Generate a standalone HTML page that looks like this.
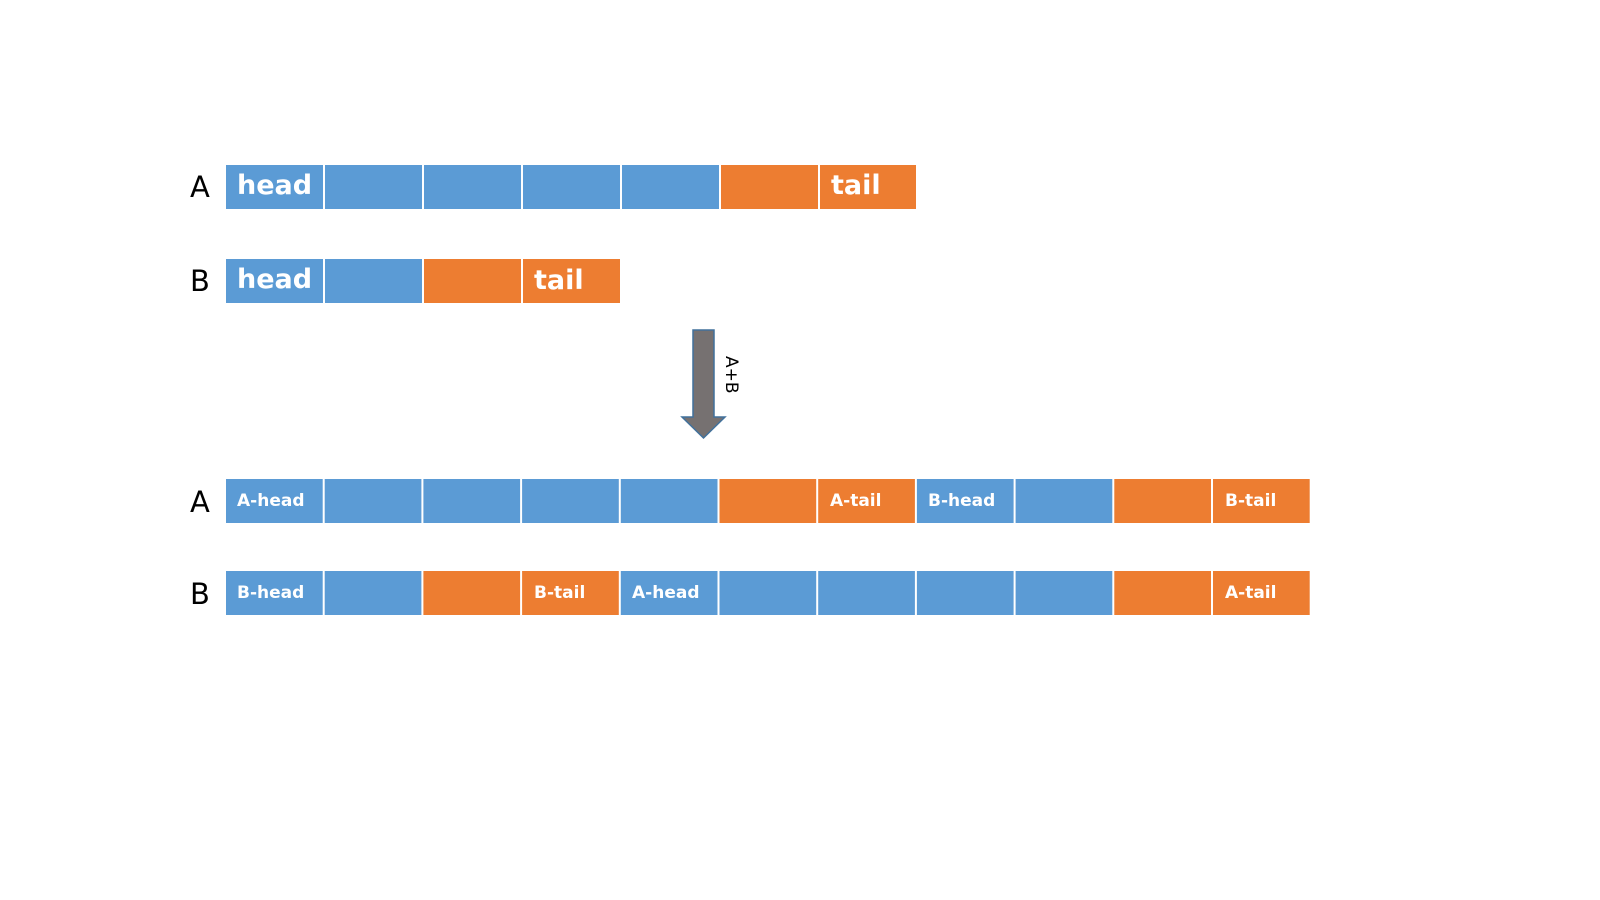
<!DOCTYPE html>
<html><head><meta charset="utf-8"><style>
html,body{margin:0;padding:0;background:#fff;}
svg{display:block;}
</style></head><body>
<svg width="1600" height="900" viewBox="0 0 1600 900" xmlns="http://www.w3.org/2000/svg">
<g font-family="'DejaVu Sans','Liberation Sans',sans-serif">
<g font-size="29" fill="#000">
<text x="190" y="197">A</text>
<text x="190" y="291">B</text>
<text x="190" y="512">A</text>
<text x="190" y="604">B</text>
</g>
<rect x="226" y="165" width="97" height="44" fill="#5B9BD5"/>
<rect x="325" y="165" width="97" height="44" fill="#5B9BD5"/>
<rect x="424" y="165" width="97" height="44" fill="#5B9BD5"/>
<rect x="523" y="165" width="97" height="44" fill="#5B9BD5"/>
<rect x="622" y="165" width="97" height="44" fill="#5B9BD5"/>
<rect x="721" y="165" width="97" height="44" fill="#ED7D31"/>
<rect x="820" y="165" width="96" height="44" fill="#ED7D31"/>
<rect x="226" y="259" width="97" height="44" fill="#5B9BD5"/>
<rect x="325" y="259" width="97" height="44" fill="#5B9BD5"/>
<rect x="424" y="259" width="97" height="44" fill="#ED7D31"/>
<rect x="523" y="259" width="97" height="44" fill="#ED7D31"/>
<g fill="#fff" font-weight="bold" font-size="27">
<text x="237" y="194">head</text>
<text x="831" y="194">tail</text>
<text x="237" y="288">head</text>
<text x="534" y="289">tail</text>
</g>
<polygon points="693,330 714,330 714,417 725,417 703.5,438 682,417 693,417" fill="#767171" stroke="#41719C" stroke-width="1.5"/>
<text transform="translate(726,356) rotate(90)" font-size="17" fill="#000">A+B</text>
<g>
<rect x="226" y="479" width="96.7" height="44" fill="#5B9BD5"/>
<rect x="324.7" y="479" width="96.7" height="44" fill="#5B9BD5"/>
<rect x="423.4" y="479" width="96.7" height="44" fill="#5B9BD5"/>
<rect x="522.1" y="479" width="96.7" height="44" fill="#5B9BD5"/>
<rect x="620.8" y="479" width="96.7" height="44" fill="#5B9BD5"/>
<rect x="719.5" y="479" width="96.7" height="44" fill="#ED7D31"/>
<rect x="818.2" y="479" width="96.7" height="44" fill="#ED7D31"/>
<rect x="916.9" y="479" width="96.7" height="44" fill="#5B9BD5"/>
<rect x="1015.6" y="479" width="96.7" height="44" fill="#5B9BD5"/>
<rect x="1114.3" y="479" width="96.7" height="44" fill="#ED7D31"/>
<rect x="1213" y="479" width="96.7" height="44" fill="#ED7D31"/>
</g>
<g>
<rect x="226" y="571" width="96.7" height="44" fill="#5B9BD5"/>
<rect x="324.7" y="571" width="96.7" height="44" fill="#5B9BD5"/>
<rect x="423.4" y="571" width="96.7" height="44" fill="#ED7D31"/>
<rect x="522.1" y="571" width="96.7" height="44" fill="#ED7D31"/>
<rect x="620.8" y="571" width="96.7" height="44" fill="#5B9BD5"/>
<rect x="719.5" y="571" width="96.7" height="44" fill="#5B9BD5"/>
<rect x="818.2" y="571" width="96.7" height="44" fill="#5B9BD5"/>
<rect x="916.9" y="571" width="96.7" height="44" fill="#5B9BD5"/>
<rect x="1015.6" y="571" width="96.7" height="44" fill="#5B9BD5"/>
<rect x="1114.3" y="571" width="96.7" height="44" fill="#ED7D31"/>
<rect x="1213" y="571" width="96.7" height="44" fill="#ED7D31"/>
</g>
<g fill="#fff" font-weight="bold" font-size="17">
<text x="237" y="506">A-head</text>
<text x="830" y="506">A-tail</text>
<text x="928" y="506">B-head</text>
<text x="1225" y="506">B-tail</text>
<text x="237" y="598">B-head</text>
<text x="534" y="598">B-tail</text>
<text x="632" y="598">A-head</text>
<text x="1225" y="598">A-tail</text>
</g>
</g>
</svg>
</body></html>
